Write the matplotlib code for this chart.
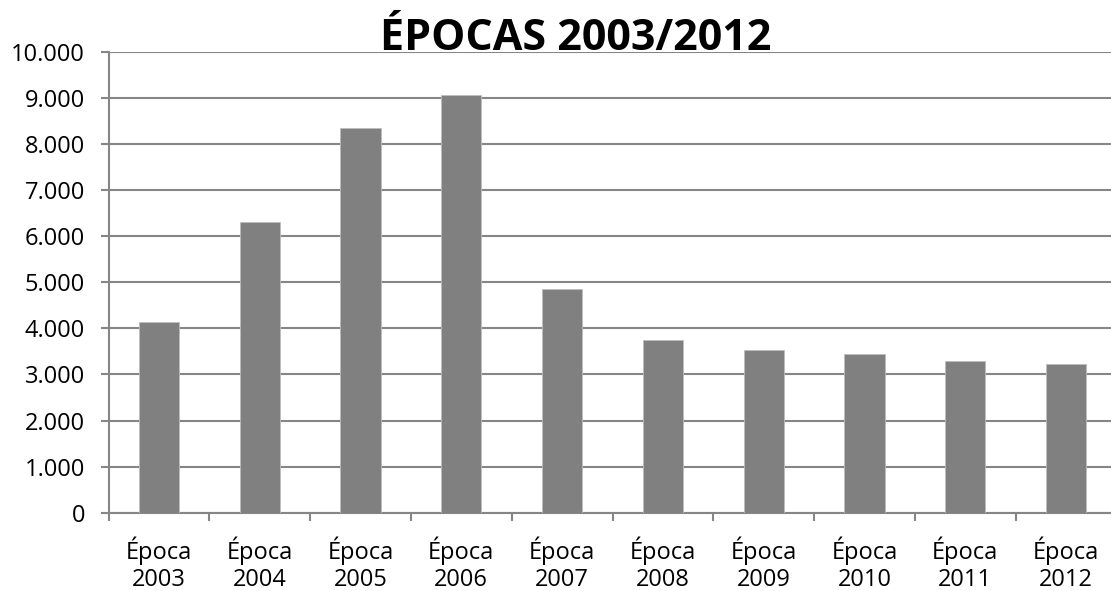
import matplotlib
matplotlib.use('Agg')
import matplotlib.pyplot as plt
import numpy as np

# values
epocas = ['Época\n2003', 'Época\n2004', 'Época\n2005', 'Época\n2006', 'Época\n2007',
          'Época\n2008', 'Época\n2009', 'Época\n2010', 'Época\n2011', 'Época\n2012']
valores = [4140, 6300, 8335, 9070, 4855, 3750, 3525, 3450, 3295, 3220]
y_ticks = [0, 1000, 2000, 3000, 4000, 5000, 6000, 7000, 8000, 9000, 10000]
y_labels = ['0', '1.000', '2.000', '3.000', '4.000', '5.000', '6.000', '7.000',
            '8.000', '9.000', '10.000']

plt.rcParams['font.family'] = ['Open Sans', 'DejaVu Sans']
grid_col = '#868686'

fig = plt.figure(figsize=(11.11, 5.91), dpi=100)
ax = fig.add_axes([108.5 / 1111, 1 - 512.7 / 591, 1008 / 1111, 461 / 591])

x = np.arange(len(valores))
ax.bar(x, valores, width=0.4, color='#808080', edgecolor='#bdbdbd', linewidth=0.6, zorder=3)

ax.set_xlim(-0.5, len(valores) - 0.5)
ax.set_ylim(0, 10000)
ax.set_yticks(y_ticks)
ax.set_yticklabels(y_labels, fontsize=17)
ax.yaxis.grid(True, color=grid_col, linewidth=1.5, zorder=0)

ax.set_xticks(x)
ax.set_xticklabels(epocas, fontsize=17, linespacing=1.2)
ax.set_xticks(np.arange(-0.5, len(valores)), minor=True)
ax.tick_params(axis='x', which='major', length=0, pad=17)
ax.tick_params(axis='x', which='minor', length=6, width=1.5, color=grid_col)
ax.tick_params(axis='y', length=6, width=1.5, color=grid_col, pad=11)

for side in ['top', 'right']:
    ax.spines[side].set_visible(False)
for side in ['left', 'bottom']:
    ax.spines[side].set_color(grid_col)
    ax.spines[side].set_linewidth(1.5)

fig.text(576 / 1111, 1 - 50 / 591, 'ÉPOCAS 2003/2012', ha='center', va='baseline',
         fontsize=31, fontweight='bold')

fig.savefig('out.png', dpi=100)
